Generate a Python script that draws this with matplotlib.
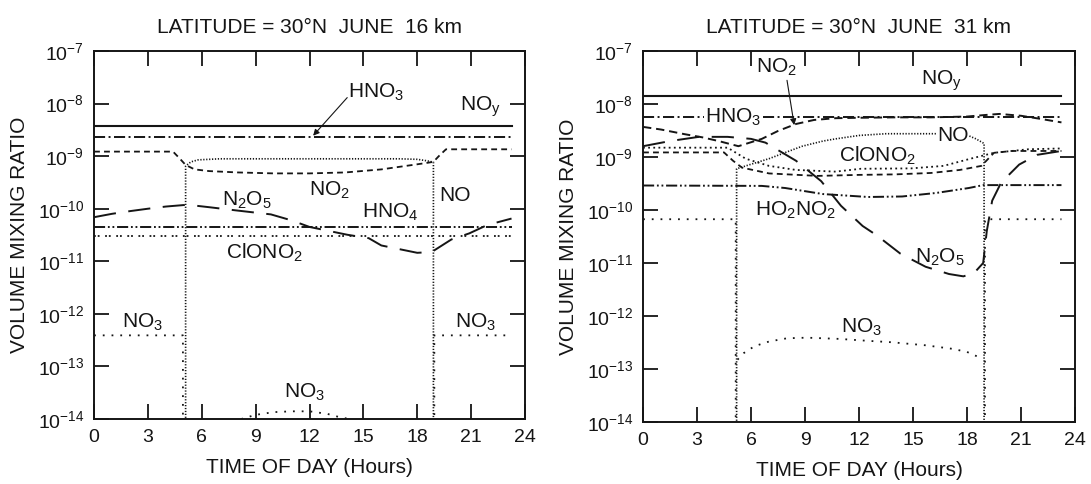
import numpy as np
import matplotlib
matplotlib.use("Agg")
import matplotlib.pyplot as plt
from matplotlib.ticker import FixedLocator, NullLocator, FuncFormatter

plt.rcParams['font.family'] = ['Liberation Sans', 'DejaVu Sans']
plt.rcParams['mathtext.fontset'] = 'custom'
plt.rcParams['mathtext.rm'] = 'Liberation Sans'
plt.rcParams['mathtext.it'] = 'Liberation Sans'
plt.rcParams['mathtext.default'] = 'regular'
plt.rcParams['lines.scale_dashes'] = False

nan = np.nan
FLOOR = 1e-16  # below the axis: effectively zero at night

# ---------------- Left panel: 16 km ----------------
L_title = "LATITUDE = 30°N  JUNE  16 km"
L_noy_h = [0, 23.25]
L_noy_v = [3.8e-9, 3.8e-9]
L_hno3_h = [0, 23.25]
L_hno3_v = [2.35e-9, 2.35e-9]
L_no2_h = [0, 4.4, 4.8, 5.1, 5.6, 6.4, 8, 10, 12, 14, 16, 18, 18.6, 18.9, 19.2, 19.6, 23.25]
L_no2_v = [1.22e-9, 1.22e-9, 8.8e-10, 6.8e-10, 5.6e-10, 5.2e-10, 4.9e-10, 4.7e-10, 4.7e-10,
           4.9e-10, 5.6e-10, 7.0e-10, 7.5e-10, 7.8e-10, 1.0e-9, 1.35e-9, 1.35e-9]
L_no_h = [5.1, 5.1, 5.4, 5.8, 7, 10, 14, 17, 18, 18.5, 18.9, 18.9]
L_no_v = [FLOOR, 6.5e-10, 7.8e-10, 8.5e-10, 8.9e-10, 8.9e-10, 8.9e-10, 8.9e-10, 8.7e-10,
          8.2e-10, 7.7e-10, FLOOR]
L_n2o5_h = [0, 1, 2, 3, 4, 5.2, 6.4, 7.9, 9.85, 11, 12, 14.1, 15.3, 16, 18, 18.8, 19.9, 20.9, 21.9, 23.25]
L_n2o5_v = [6.9e-11, 8.0e-11, 9.0e-11, 1.0e-10, 1.1e-10, 1.19e-10, 1.07e-10, 9.3e-11, 7.8e-11,
            6.0e-11, 4.5e-11, 3.2e-11, 2.75e-11, 2.0e-11, 1.45e-11, 1.5e-11, 2.6e-11, 3.4e-11,
            4.9e-11, 6.5e-11]
L_hno4_h = [0, 23.25]
L_hno4_v = [4.4e-11, 4.4e-11]
L_clono2_h = [0, 23.25]
L_clono2_v = [3.0e-11, 3.0e-11]
L_no3_h = [0, 4.95, 4.95, nan, 8.2, 9, 10, 11, 12, 13, 13.6, 14.2, nan, 18.95, 18.95, 23.25]
L_no3_v = [3.9e-13, 3.9e-13, FLOOR, nan, 1.0e-14, 1.2e-14, 1.35e-14, 1.4e-14, 1.4e-14, 1.25e-14,
           1.1e-14, 1.0e-14, nan, FLOOR, 3.9e-13, 3.9e-13]

# ---------------- Right panel: 31 km ----------------
R_title = "LATITUDE = 30°N  JUNE  31 km"
R_noy_h = [0, 23.25]
R_noy_v = [1.42e-8, 1.42e-8]
R_hno3_h = [0, 23.25]
R_hno3_v = [5.8e-9, 5.8e-9]
R_no2_h = [0, 1, 2.3, 3.3, 4.2, 5.3, 6.6, 7.5, 8.5, 9.5, 10.7, 12, 14, 16, 18, 19, 19.8, 21, 22, 23.25]
R_no2_v = [3.7e-9, 3.3e-9, 2.7e-9, 2.35e-9, 2.0e-9, 1.6e-9, 2.2e-9, 3.1e-9, 4.2e-9, 5.0e-9,
           5.4e-9, 5.5e-9, 5.6e-9, 5.6e-9, 5.8e-9, 6.2e-9, 6.5e-9, 6.0e-9, 5.3e-9, 4.5e-9]
R_no_h = [5.2, 5.2, 6, 7, 8, 8.85, 10, 10.7, 12, 13.5, 16.4, 18.0, 18.5, 18.95, 18.95]
R_no_v = [FLOOR, 6.0e-10, 7.3e-10, 9.3e-10, 1.25e-9, 1.6e-9, 2.0e-9, 2.2e-9, 2.55e-9, 2.75e-9,
          2.75e-9, 2.6e-9, 2.2e-9, 1.8e-9, FLOOR]
R_clono2_h = [0, 4.7, 5.7, 7, 8.5, 10.7, 12.1, 14.9, 16.7, 18.2, 19.5, 21.4, 23.25]
R_clono2_v = [1.5e-9, 1.5e-9, 9.3e-10, 6.8e-10, 5.7e-10, 5.3e-10, 6.0e-10, 6.1e-10, 6.8e-10,
              9.3e-10, 1.2e-9, 1.4e-9, 1.45e-9]
R_dash_h = [0, 4.5, 5.0, 5.5, 7, 9.7, 12, 14, 16, 17.6, 18.8, 19.5, 20.5, 23.25]
R_dash_v = [1.22e-9, 1.22e-9, 8.5e-10, 6.3e-10, 4.9e-10, 4.4e-10, 4.6e-10, 4.7e-10, 5.0e-10,
            5.7e-10, 6.8e-10, 1.2e-9, 1.3e-9, 1.3e-9]
R_ho2no2_h = [0, 6.6, 7.9, 10, 12.5, 14.4, 16.3, 18.1, 18.9, 23.25]
R_ho2no2_v = [2.9e-10, 2.85e-10, 2.6e-10, 2.0e-10, 1.76e-10, 1.8e-10, 2.1e-10, 2.6e-10,
              2.95e-10, 2.95e-10]
R_n2o5_h = [0, 1.5, 3.1, 4.7, 6.0, 6.8, 8.5, 9.9, 11.0, 12.2, 13.0, 14.3, 15.7, 17.0, 17.8,
            18.4, 18.9, 19.1, 19.4, 19.9, 20.9, 21.9, 23.25]
R_n2o5_v = [1.6e-9, 2.0e-9, 2.4e-9, 2.4e-9, 2.2e-9, 1.87e-9, 8.5e-10, 3.5e-10, 1.2e-10, 5.0e-11,
            3.3e-11, 1.5e-11, 8.5e-12, 6.2e-12, 5.6e-12, 6.5e-12, 1.0e-11, 4.0e-11, 1.5e-10,
            3.3e-10, 7.2e-10, 1.1e-9, 1.3e-9]
R_no3_h = [0, 5.15, 5.15, nan, 5.25, 5.6, 6.2, 7, 8, 9.1, 10.9, 12.5, 13.8, 15.7, 17.2, 18.0,
           18.7, nan, 19.0, 19.0, 23.25]
R_no3_v = [6.7e-11, 6.7e-11, FLOOR, nan, 1.5e-13, 2.0e-13, 2.7e-13, 3.3e-13, 3.8e-13, 3.9e-13,
           3.7e-13, 3.4e-13, 3.2e-13, 2.8e-13, 2.4e-13, 2.1e-13, 1.65e-13, nan, FLOOR,
           6.7e-11, 6.7e-11]

x_ticks = [0, 3, 6, 9, 12, 15, 18, 21, 24]
y_ticks = [1e-14, 1e-13, 1e-12, 1e-11, 1e-10, 1e-9, 1e-8, 1e-7]

INK = '#151515'
STY = {
    'solid': dict(linestyle='-', lw=1.5),
    'dashdot': dict(dashes=(8, 2.5, 1.4, 2.5), lw=1.4),
    'short': dict(dashes=(4.2, 3.0), lw=1.3),
    'medium': dict(dashes=(6, 3.5), lw=1.4),
    'fine': dict(dashes=(0.9, 1.2), lw=1.2),
    'long': dict(dashes=(16, 9), lw=1.4),
    'dashdotdot': dict(dashes=(8, 2, 1.3, 2, 1.3, 2), lw=1.4),
    'pairs': dict(dashes=(1.3, 1.4, 1.3, 4.0), lw=1.3),
    'sparse': dict(dashes=(1.3, 5.0), lw=1.3),
    'dots2': dict(dashes=(1.3, 2.4), lw=1.3),
}

FS = 15


def setup(ax, title):
    ax.set_yscale('log')
    ax.set_xlim(0, 24)
    ax.set_ylim(1e-14, 1e-7)
    ax.xaxis.set_major_locator(FixedLocator(x_ticks))
    ax.yaxis.set_major_locator(FixedLocator(y_ticks))
    ax.yaxis.set_minor_locator(NullLocator())
    ax.xaxis.set_minor_locator(NullLocator())
    ax.yaxis.set_major_formatter(FuncFormatter(lambda v, p: r'$10^{%d}$' % round(np.log10(v))))
    ax.tick_params(axis='both', direction='in', length=11, width=1.3, color=INK,
                   top=True, right=True, labelcolor=INK)
    ax.tick_params(axis='x', labelsize=14, pad=7)
    ax.tick_params(axis='y', labelsize=14, pad=7)
    for s in ax.spines.values():
        s.set_linewidth(1.4)
        s.set_color(INK)
    ax.set_title(title, fontsize=FS, pad=13, color=INK)
    ax.set_xlabel('TIME OF DAY (Hours)', fontsize=FS, labelpad=9, color=INK)
    ax.set_ylabel('VOLUME MIXING RATIO', fontsize=FS, labelpad=6, color=INK)


def line(ax, h, v, style):
    ax.plot(h, v, color=INK, **STY[style])


def label(ax, h, v, s, **kw):
    ax.text(h, v, s, fontsize=FS, ha='center', va='center', color=INK, **kw)


fig = plt.figure(figsize=(10.91, 4.84), dpi=100)

# Left
axL = fig.add_axes([0.0862, 0.1343, 0.395, 0.7603])
setup(axL, L_title)
line(axL, L_noy_h, L_noy_v, 'solid')
line(axL, L_hno3_h, L_hno3_v, 'dashdot')
line(axL, L_no2_h, L_no2_v, 'short')
line(axL, L_no_h, L_no_v, 'fine')
line(axL, L_n2o5_h, L_n2o5_v, 'long')
line(axL, L_hno4_h, L_hno4_v, 'dashdotdot')
line(axL, L_clono2_h, L_clono2_v, 'pairs')
line(axL, L_no3_h, L_no3_v, 'sparse')
label(axL, 15.7, 1.65e-8, 'HNO$_3$')
axL.annotate('', xy=(12.2, 2.45e-9), xytext=(14.1, 1.3e-8),
             arrowprops=dict(arrowstyle='-|>', lw=0.8, color=INK, mutation_scale=9, shrinkA=0, shrinkB=0))
label(axL, 21.5, 8.6e-9, 'NO$_y$')
label(axL, 13.1, 2.2e-10, 'NO$_2$')
label(axL, 8.5, 1.44e-10, 'N$_2$O$_5$')
label(axL, 20.1, 1.78e-10, 'NO')
label(axL, 16.5, 8.7e-11, 'HNO$_4$')
label(axL, 9.5, 1.44e-11, 'ClONO$_2$')
label(axL, 2.7, 6.9e-13, 'NO$_3$')
label(axL, 21.25, 6.9e-13, 'NO$_3$')
label(axL, 11.7, 3.2e-14, 'NO$_3$')

# Right
axR = fig.add_axes([0.5894, 0.1281, 0.3959, 0.7665])
setup(axR, R_title)
line(axR, R_noy_h, R_noy_v, 'solid')
line(axR, R_hno3_h, R_hno3_v, 'dashdot')
line(axR, R_no2_h, R_no2_v, 'medium')
line(axR, R_no_h, R_no_v, 'fine')
line(axR, R_clono2_h, R_clono2_v, 'dots2')
line(axR, R_dash_h, R_dash_v, 'short')
line(axR, R_ho2no2_h, R_ho2no2_v, 'dashdotdot')
line(axR, R_n2o5_h, R_n2o5_v, 'long')
line(axR, R_no3_h, R_no3_v, 'sparse')
label(axR, 7.4, 4.9e-8, 'NO$_2$')
axR.annotate('', xy=(8.4, 4.0e-9), xytext=(8.0, 2.8e-8),
             arrowprops=dict(arrowstyle='-|>', lw=0.8, color=INK, mutation_scale=9, shrinkA=0, shrinkB=0))
label(axR, 16.6, 2.7e-8, 'NO$_y$')
label(axR, 5.0, 5.5e-9, 'HNO$_3$', bbox=dict(facecolor='white', edgecolor='none', pad=0.5))
label(axR, 17.2, 2.55e-9, 'NO', bbox=dict(facecolor='white', edgecolor='none', pad=0.5))
label(axR, 13.0, 1.05e-9, 'ClONO$_2$')
label(axR, 8.45, 1.0e-10, 'HO$_2$NO$_2$')
label(axR, 16.5, 1.3e-11, 'N$_2$O$_5$')
label(axR, 12.15, 6.0e-13, 'NO$_3$')

fig.savefig('out.png', dpi=100)
